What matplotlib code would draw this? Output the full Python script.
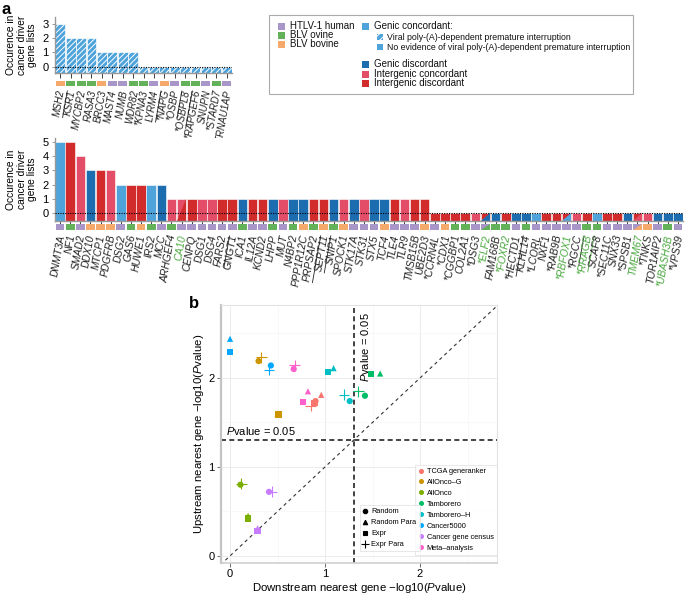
import math
import matplotlib
matplotlib.use('Agg')
import matplotlib.pyplot as plt
import matplotlib.transforms as mtransforms
from matplotlib.patches import Rectangle, Polygon
from matplotlib.lines import Line2D

plt.rcParams['font.family'] = ['Liberation Sans', 'DejaVu Sans']
plt.rcParams['mathtext.fontset'] = 'custom'
plt.rcParams['mathtext.it'] = 'Liberation Sans:italic'
plt.rcParams['mathtext.rm'] = 'Liberation Sans'
plt.rcParams['hatch.linewidth'] = 0.7

# ---- colours
species_col = {'H': '#a996c9', 'O': '#63b25a', 'B': '#f5a96a'}
class_col = {'LB': '#4fa3db', 'DB': '#1c6cb0', 'P': '#e44d68', 'R': '#d22b2c'}
GREEN_TXT = '#4aa83f'

# ---- panel a, top (genic concordant, viral poly-(A) interruption)
top_genes = ['MSH2', 'KSR1', 'MYCBP2', 'RASA3', 'BRCC3', 'MAST4', 'NUMB', 'WDR82',
             '*KPNA3', 'LYRM4', '*NAPG', '*OSBP', '*OSBPL8', '*RAPGEF6', 'SNUPN',
             '*STARD7', 'TRNAU1AP']
top_counts = [3, 2, 2, 2, 1, 1, 1, 1, 0, 0, 0, 0, 0, 0, 0, 0, 0]
top_species = ['B', 'O', 'O', 'O', 'B', 'H', 'H', 'O', 'O', 'H', 'B', 'H', 'O', 'O',
               'H', 'O', 'H']
top_underlined = ['MSH2', 'LYRM4', '*OSBP', '*OSBPL8']

# ---- panel a, bottom
bot_genes = ['DNMT3A', 'NF1', 'SMAD2', 'DDX10', 'MTCP1', 'PDGFRB', 'DSG2', 'GAS6',
             'HUWE1', 'IRS2', 'MCC', 'ARHGEF4', 'CA10', 'CENPQ', 'DSG1', 'DSG4',
             'FARS2', 'GNGT1', 'ICA1', 'IL12A', 'KCND2', 'LHPP', 'MUT', 'N4BP2',
             'PPP1R12C', 'PRPSAP2', 'SEPT11', 'SNIP1', 'SPOCK1', 'STK17A', 'STK31',
             'STX5', 'TCF4', 'TLE4', 'TLR9', 'TMSB15B', 'UBE2D3', '*CCRN4L', '*CDX1',
             '*CGGBP1', 'COL2A1', '*DSG3', '*ELF2', 'FAM168B', '*FOXR2', '*HECTD1',
             'KLHL14', '*LCORL', 'NXF1', '*RAB9B', '*RBFOX1', '*RGCC', '*RRAGB',
             'SCAF8', '*SEC11C', 'SNX33', '*SPSB1', 'TMEM67', '*TNKS', 'TOR1AIP2',
             '*UBASH3B', '*VPS39']
bot_counts = [5, 5, 4, 3, 3, 3, 2, 2, 2, 2, 2] + [1] * 26 + [0] * 25
bot_class = ['LB', 'R', 'P', 'DB', 'R', 'P', 'LB', 'R', 'R', 'LB', 'DB', 'P', 'P/R',
             'R', 'P', 'P', 'R', 'R', 'DB', 'R', 'R', 'DB', 'P', 'DB', 'DB', 'R', 'R',
             'DB', 'P', 'DB', 'P', 'DB', 'DB', 'R', 'P', 'R', 'R', 'R', 'R', 'R', 'R',
             'P', 'R/DB', 'DB', 'R', 'DB', 'DB', 'LB', 'R', 'R', 'R/LB', 'P', 'R', 'LB',
             'R', 'R', 'DB', 'R/P', 'P', 'DB', 'DB', 'DB']
bot_species = ['H', 'O', 'H', 'B', 'B', 'B', 'H', 'O', 'B', 'O', 'H', 'O', 'H', 'H',
               'H', 'H', 'H', 'H', 'O', 'H', 'H', 'O', 'H', 'O', 'B', 'O', 'B', 'O',
               'B', 'H', 'H', 'H', 'B', 'H', 'H', 'H', 'B', 'H', 'B', 'O', 'O', 'H',
               'H/O', 'O', 'O', 'H', 'O', 'H', 'H', 'H', 'H', 'H', 'O', 'O', 'H', 'H',
               'H', 'H/B', 'B', 'H', 'O', 'H']
bot_green = ['CA10', '*ELF2', '*FOXR2', '*RBFOX1', '*RRAGB', 'TMEM67', '*UBASH3B']
bot_underlined = ['FARS2', 'PRPSAP2', 'SEPT11', '*HECTD1', '*RGCC', '*RRAGB']

# ---- panel b
b_sets = ['TCGA generanker', 'AllOnco\u2013G', 'AllOnco', 'Tamborero', 'Tamborero\u2013H',
          'Cancer5000', 'Cancer gene census', 'Meta\u2013analysis']
b_colors = ['#f8766d', '#cd9600', '#7cae00', '#00be67', '#00bfc4', '#00a9ff',
            '#c77cff', '#ff61cc']
down_random = [0.90, 0.30, 0.11, 1.42, 1.26, 0.43, 0.41, 0.67]
up_random = [1.74, 2.19, 0.80, 1.80, 1.74, 2.14, 0.72, 2.10]
down_random_para = [0.96, 0.50, 0.19, 1.58, 1.09, 0.00, 0.29, 0.82]
up_random_para = [1.81, 1.60, 0.45, 2.05, 2.11, 2.44, 0.31, 1.85]
down_expr = [0.89, 0.51, 0.19, 1.48, 1.03, 0.00, 0.29, 0.77]
up_expr = [1.72, 1.59, 0.42, 2.04, 2.07, 2.29, 0.28, 1.73]
down_expr_para = [0.85, 0.33, 0.12, 1.35, 1.20, 0.41, 0.44, 0.68]
up_expr_para = [1.69, 2.23, 0.81, 1.85, 1.81, 2.09, 0.72, 2.14]
p_threshold = 0.05

W, H = 685, 597
fig = plt.figure(figsize=(W / 100, H / 100), dpi=100)


def px_axes(x0, y0, x1, y1):
    # axes from pixel box (top-left origin)
    return fig.add_axes([x0 / W, 1 - y1 / H, (x1 - x0) / W, (y1 - y0) / H])


def split_colors(key, table):
    parts = key.split('/')
    return table[parts[0]], (table[parts[1]] if len(parts) > 1 else None)


def lower_right_triangle(ax, x, bottom, top, width, color):
    ax.add_patch(Polygon([(x - width / 2, bottom), (x + width / 2, bottom),
                          (x + width / 2, top)], closed=True, facecolor=color,
                         edgecolor='none', zorder=2.5))


def style_bar_axes(ax, n, ymin, ymax, yticks):
    ax.set_xlim(-0.5, n - 0.5)
    ax.set_ylim(ymin, ymax)
    ax.set_yticks(yticks)
    ax.set_xticks(range(n))
    ax.tick_params(axis='x', length=3.5, width=0.6, color='#222222', labelbottom=False)
    ax.tick_params(axis='y', length=2.5, width=0.6, color='#888888', labelsize=8,
                   pad=2)
    for s in ['top', 'right']:
        ax.spines[s].set_visible(False)
    for s in ['left', 'bottom']:
        ax.spines[s].set_color('#999999')
        ax.spines[s].set_linewidth(1.0)
    ax.axhline(0, color='black', lw=0.8, ls=(0, (1, 1.2)), zorder=4)
    ax.set_ylabel('Occurence in\ncancer driver\ngene lists', fontsize=7.4, labelpad=4,
                  linespacing=1.05)


def draw_strip(ax, species):
    n = len(species)
    for i, sp in enumerate(species):
        c1, c2 = split_colors(sp, species_col)
        ax.bar(i, 1, width=0.86, bottom=0, color=c1, linewidth=0)
        if c2:
            lower_right_triangle(ax, i, 0, 1, 0.86, c2)
    ax.set_xlim(-0.5, n - 0.5)
    ax.set_ylim(0, 1)
    ax.axis('off')


def gene_labels(ax, genes, green, underlined, fs=7.4):
    trans = mtransforms.blended_transform_factory(ax.transData, ax.transAxes)
    renderer = fig.canvas.get_renderer()
    for i, g in enumerate(genes):
        col = GREEN_TXT if g in green else '#222222'
        t = ax.text(i + 0.15, -0.8, g, transform=trans, rotation=80,
                    rotation_mode='anchor', ha='right', va='center', fontsize=fs,
                    style='italic', color=col)
        if g in underlined:
            name = g.lstrip('*')
            w, h, d = renderer.get_text_width_height_descent(
                name, t.get_fontproperties(), ismath=False)
            off = 0.58 * fs * 100 / 72
            tr = (mtransforms.Affine2D().rotate_deg(80)
                  + mtransforms.ScaledTranslation(i + 0.15, -0.8, trans))
            ax.add_line(Line2D([-w, 0], [-off, -off], transform=tr, lw=0.6,
                               color=col, clip_on=False))


# ---------------- panel a top
ax_t = px_axes(55, 17, 232, 73)
xt = range(len(top_genes))
ax_t.bar(xt, [c + 0.42 for c in top_counts], bottom=-0.42, width=0.94,
         color=class_col['LB'], edgecolor='white', hatch='//////', linewidth=0.5,
         zorder=2)
style_bar_axes(ax_t, len(top_genes), -0.42, 3.45, [0, 1, 2, 3])
ax_ts = px_axes(55, 81, 232, 86)
draw_strip(ax_ts, top_species)
gene_labels(ax_ts, top_genes, [], top_underlined, fs=7.0)

# ---------------- panel a bottom
ax_b = px_axes(55, 138, 683, 221)
for i, (cnt, cl) in enumerate(zip(bot_counts, bot_class)):
    c1, c2 = split_colors(cl, class_col)
    ax_b.bar(i, cnt + 0.55, bottom=-0.55, width=0.94, color=c1, edgecolor='white',
             linewidth=0.4, zorder=2)
    if c2:
        lower_right_triangle(ax_b, i, -0.55, cnt, 0.94, c2)
style_bar_axes(ax_b, len(bot_genes), -0.55, 5.26, [0, 1, 2, 3, 4, 5])
ax_bs = px_axes(55, 224, 683, 230)
draw_strip(ax_bs, bot_species)
gene_labels(ax_bs, bot_genes, bot_green, bot_underlined)

# ---------------- overlay for panel letters and legend of panel a
ov = fig.add_axes([0, 0, 1, 1], zorder=-1)
ov.set_xlim(0, W)
ov.set_ylim(H, 0)
ov.axis('off')
ov.text(2, 9, 'a', fontsize=12, fontweight='bold', va='center')
ov.text(189, 303, 'b', fontsize=12, fontweight='bold', va='center')

ov.add_patch(Rectangle((269, 15), 364, 79, fill=False, edgecolor='#aaaaaa', lw=0.8))
big = [(282, 26, species_col['H'], 'HTLV-1 human'),
       (282, 35, species_col['O'], 'BLV ovine'),
       (282, 44, species_col['B'], 'BLV bovine'),
       (366, 26, class_col['LB'], 'Genic concordant:'),
       (366, 64, class_col['DB'], 'Genic discordant'),
       (366, 74, class_col['P'], 'Intergenic concordant'),
       (366, 83, class_col['R'], 'Intergenic discordant')]
for x, y, c, lab in big:
    ov.add_patch(Rectangle((x - 3.5, y - 3.5), 7, 7, facecolor=c, edgecolor='none'))
    ov.text(x + 8, y, lab, fontsize=7.0, va='center', ha='left', color='#111111')
small = [(380, 37, True, 'Viral poly-(A)-dependent premature interruption'),
         (380, 47, False, 'No evidence of viral poly-(A)-dependent premature interruption')]
for x, y, hatched, lab in small:
    ov.add_patch(Rectangle((x - 2.8, y - 2.8), 5.6, 5.6, facecolor=class_col['LB'],
                           edgecolor='white' if hatched else 'none',
                           hatch='/////' if hatched else None, lw=0))
    ov.text(x + 7, y, lab, fontsize=6.3, va='center', ha='left', color='#111111')

# ---------------- panel b
ax = px_axes(221, 305, 497, 563)
ax.set_xlim(-0.095, 2.81)
ax.set_ylim(-0.08, 2.82)
ax.set_xticks([0, 1, 2])
ax.set_yticks([0, 1, 2])
ax.set_xticks([0.5, 1.5, 2.5], minor=True)
ax.set_yticks([0.5, 1.5, 2.5], minor=True)
ax.grid(True, which='major', color='#ebebeb', lw=0.7)
ax.grid(True, which='minor', color='#f5f5f5', lw=0.5)
ax.set_axisbelow(True)
ax.tick_params(which='major', length=3, width=0.6, color='#555555', labelsize=8,
               pad=1.5)
ax.tick_params(which='minor', length=0)
for s in ax.spines.values():
    s.set_color('#e3e3e3')
    s.set_linewidth(0.8)
ax.spines['left'].set_color('#c4c4c4')
ax.spines['left'].set_linewidth(1.6)
ax.spines['bottom'].set_color('#cfcfcf')
ax.spines['bottom'].set_linewidth(1.2)

thr = -math.log10(p_threshold)
ax.plot([-0.1, 3.0], [-0.1, 3.0], color='#333333', lw=0.8, ls=(0, (3, 3)), zorder=1)
ax.axvline(thr, color='#222222', lw=1.2, ls=(0, (3, 2)), zorder=1)
ax.axhline(thr, color='#222222', lw=1.2, ls=(0, (3, 2)), zorder=1)
ax.text(-0.04, thr + 0.04, r'$\it{P}$value = 0.05', fontsize=8, ha='left', va='bottom')
ax.text(thr + 0.06, 2.74, r'$\it{P}$value = 0.05', fontsize=8, rotation=90,
        rotation_mode='anchor', ha='right', va='top')

shapes = [('Random', 'o', down_random, up_random),
          ('Random Para', '^', down_random_para, up_random_para),
          ('Expr', 's', down_expr, up_expr),
          ('Expr Para', '+', down_expr_para, up_expr_para)]
for lab, mk, xs, ys in shapes:
    if mk == '+':
        ax.scatter(xs, ys, c=b_colors, marker='+', s=60, linewidths=0.8, zorder=3)
    else:
        ax.scatter(xs, ys, c=b_colors, marker=mk, s=20, linewidths=0, zorder=3)

ax.set_xlabel(r'Downstream nearest gene $-$log10($\it{P}$value)', fontsize=8.2,
              labelpad=1)
ax.set_ylabel(r'Upstream nearest gene $-$log10($\it{P}$value)', fontsize=8.2,
              labelpad=2)

col_handles = [Line2D([], [], ls='none', marker='o', ms=2.6, color=c) for c in b_colors]
leg1 = ax.legend(col_handles, b_sets, loc='lower right', bbox_to_anchor=(1.0, 0.03),
                 fontsize=5.3, frameon=True, fancybox=False, edgecolor='#dddddd',
                 handlelength=0.6, handletextpad=0.5, labelspacing=0.52,
                 borderpad=0.45, borderaxespad=0.0)
leg1.get_frame().set_linewidth(0.6)
ax.add_artist(leg1)
shp_handles = [Line2D([], [], ls='none', marker=mk, ms=3.2 if mk != '+' else 6,
                      mew=0.8, color='black') for _, mk, _, _ in shapes]
leg2 = ax.legend(shp_handles, [s[0] for s in shapes], loc='lower right',
                 bbox_to_anchor=(0.72, 0.045), fontsize=5.3, frameon=True,
                 fancybox=False, edgecolor='#dddddd', handlelength=0.6,
                 handletextpad=0.5, labelspacing=0.52, borderpad=0.45,
                 borderaxespad=0.0)
leg2.get_frame().set_linewidth(0.6)

fig.savefig('out.png', dpi=100)
